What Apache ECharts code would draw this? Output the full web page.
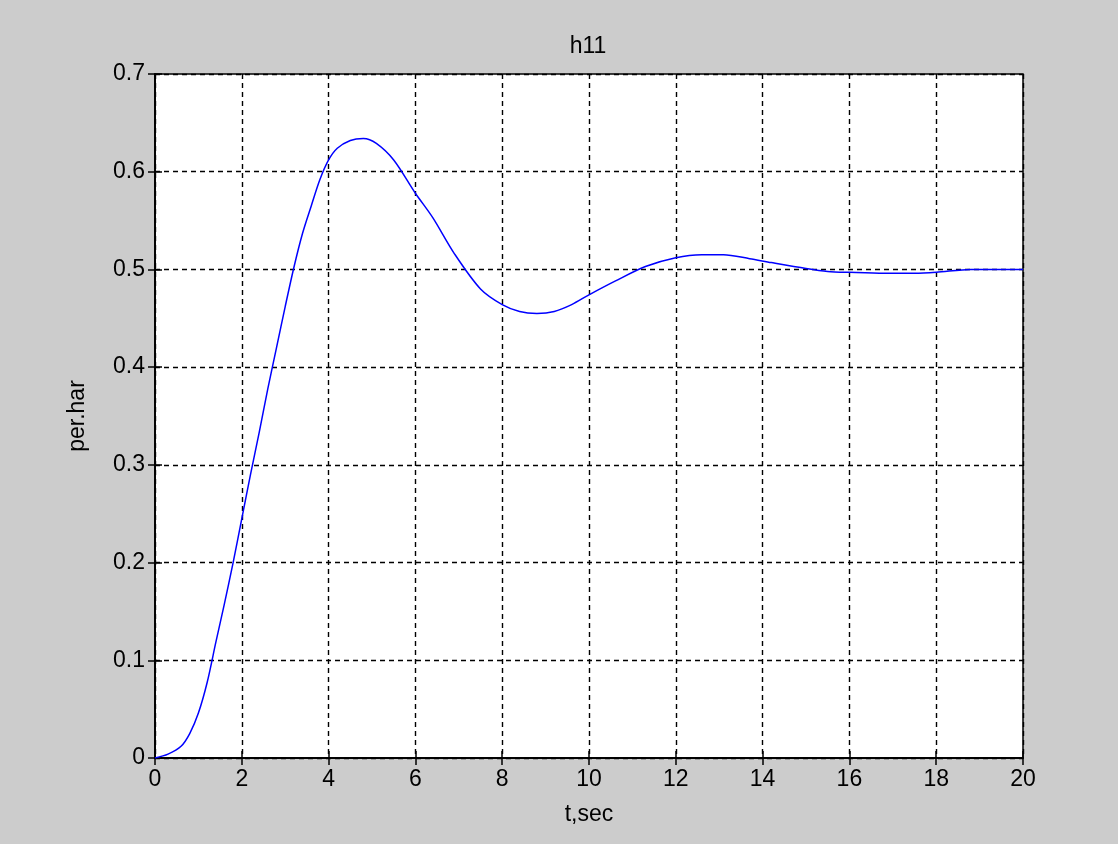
<!DOCTYPE html>
<html>
<head>
<meta charset="utf-8">
<script src="https://cdn.jsdelivr.net/npm/echarts@6/dist/echarts.min.js"></script>
<style>
html,body{margin:0;padding:0;background:#cccccc;}
#chart{width:1118px;height:844px;}
</style>
</head>
<body>
<div id="chart"></div>
<script>
var titleText = 'h11';
var xName = 't,sec';
var yName = 'per.har';
var tValues = [0, 0.3, 0.6, 0.8, 1.0, 1.2, 1.4, 1.6, 1.8, 2.0, 2.2, 2.4, 2.6, 2.8, 3.0, 3.2, 3.4, 3.6, 3.8, 4.0, 4.2, 4.5, 4.8, 5.1, 5.5, 6.0, 6.4, 6.9, 7.5, 8.0, 8.4, 8.8, 9.2, 9.6, 10, 10.6, 11.3, 12, 12.6, 13.1, 13.7, 14.2, 15, 15.5, 16, 16.8, 17.5, 18, 18.8, 20];
var hValues = [0, 0.004, 0.012, 0.025, 0.046, 0.077, 0.118, 0.158, 0.20, 0.245, 0.29, 0.333, 0.378, 0.42, 0.462, 0.502, 0.537, 0.565, 0.592, 0.612, 0.624, 0.632, 0.634, 0.629, 0.612, 0.578, 0.553, 0.516, 0.48, 0.464, 0.457, 0.455, 0.457, 0.464, 0.474, 0.488, 0.503, 0.512, 0.515, 0.515, 0.511, 0.507, 0.501, 0.498, 0.497, 0.496, 0.496, 0.497, 0.5, 0.5];

var pts = tValues.map(function(t, i){ return [t, hValues[i]]; });
var font = 'Liberation Sans, Arial, sans-serif';
var chart = echarts.init(document.getElementById('chart'));
var gridLine = {show:true, lineStyle:{color:'#000', type:[5,4], width:1.4}};
chart.setOption({
  backgroundColor:'#cccccc',
  animation:false,
  title:{text:titleText, left:583, top:30, textAlign:'center',
    textStyle:{fontFamily:font, fontSize:23, fontWeight:'normal', color:'#000'}},
  grid:{left:155, right:95, top:74, bottom:86, show:true, backgroundColor:'#fff', borderColor:'#000', borderWidth:1.5},
  xAxis:[{type:'value', min:0, max:20, interval:2, position:'bottom',
    name:xName, nameLocation:'middle', nameGap:45,
    nameTextStyle:{fontFamily:font, fontSize:23, color:'#000'},
    axisLine:{show:true, lineStyle:{color:'#000', width:1.5}},
    axisTick:{show:true, inside:true, length:7, lineStyle:{color:'#000', width:1.5}},
    axisLabel:{fontFamily:font, fontSize:23, color:'#000', margin:10},
    splitLine:gridLine},
   {type:'value', min:0, max:20, interval:2, position:'top',
    axisLine:{show:true, lineStyle:{color:'#000', width:1.5}},
    axisTick:{show:true, inside:true, length:7, lineStyle:{color:'#000', width:1.5}},
    axisLabel:{show:false}, splitLine:{show:false}}],
  yAxis:[{type:'value', min:0, max:0.7, interval:0.1, position:'left',
    name:yName, nameLocation:'middle', nameGap:66, nameRotate:90,
    nameTextStyle:{fontFamily:font, fontSize:23, color:'#000'},
    axisLine:{show:true, lineStyle:{color:'#000', width:1.5}},
    axisTick:{show:true, inside:true, length:7, lineStyle:{color:'#000', width:1.5}},
    axisLabel:{fontFamily:font, fontSize:23, color:'#000', margin:10,
      formatter:function(v){ return v === 0 ? '0' : v.toFixed(1); }},
    splitLine:gridLine},
   {type:'value', min:0, max:0.7, interval:0.1, position:'right',
    axisLine:{show:true, lineStyle:{color:'#000', width:1.5}},
    axisTick:{show:true, inside:true, length:7, lineStyle:{color:'#000', width:1.5}},
    axisLabel:{show:false}, splitLine:{show:false}}],
  series:[{type:'line', data:pts, xAxisIndex:0, yAxisIndex:0, smooth:0.3, showSymbol:false,
    lineStyle:{color:'#0000ff', width:1.5}, z:5}]
});
</script>
</body>
</html>
